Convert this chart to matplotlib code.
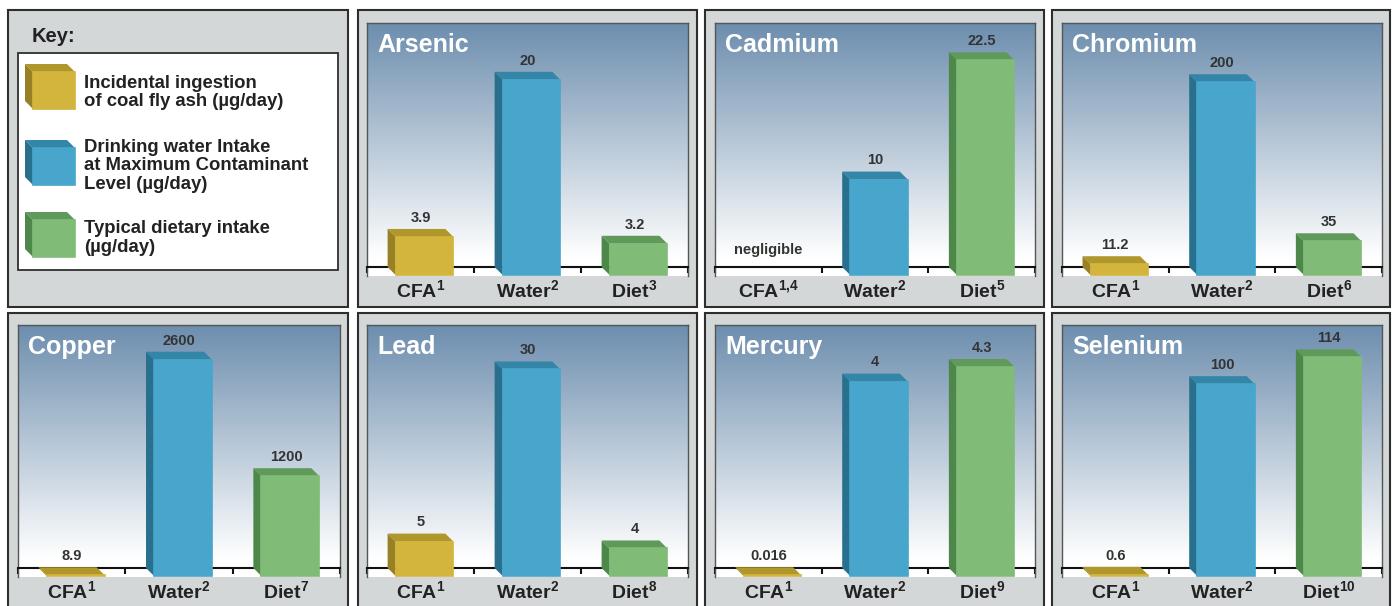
import numpy as np
import matplotlib
matplotlib.use('Agg')
import matplotlib.pyplot as plt
from matplotlib.patches import Rectangle, Polygon

plt.rcParams['font.family'] = ['Liberation Sans', 'DejaVu Sans']
plt.rcParams['font.weight'] = 'bold'

# Data (µg/day)
elements = ['Arsenic', 'Cadmium', 'Chromium', 'Copper', 'Lead', 'Mercury', 'Selenium']
cfa = [3.9, None, 11.2, 8.9, 5, 0.016, 0.6]        # None -> negligible
water = [20, 10, 200, 2600, 30, 4, 100]
diet = [3.2, 22.5, 35, 1200, 4, 4.3, 114]
cfa_notes = ['1', '1{,}4', '1', '1', '1', '1', '1']
water_notes = ['2', '2', '2', '2', '2', '2', '2']
diet_notes = ['3', '5', '6', '7', '8', '9', '10']
key_labels = ['Incidental ingestion\nof coal fly ash (µg/day)',
              'Drinking water Intake\nat Maximum Contaminant\nLevel (µg/day)',
              'Typical dietary intake\n(µg/day)']

# how much of the plot height the tallest bar uses, per panel
fill = [0.80, 0.88, 0.79, 0.89, 0.85, 0.86, 0.90]

colors = {
    'cfa':   {'front': '#d3b43c', 'top': '#b0972c', 'side': '#978124'},
    'water': {'front': '#48a5cb', 'top': '#3386a8', 'side': '#28708e'},
    'diet':  {'front': '#80bb78', 'top': '#5f9a5a', 'side': '#4e874a'},
}
series = ['cfa', 'water', 'diet']

W, H = 1392, 606
fig = plt.figure(figsize=(W / 100, H / 100), dpi=100)


def fig_rect(x0, y0, x1, y1):
    return [x0 / W, 1 - y1 / H, (x1 - x0) / W, (y1 - y0) / H]


def cube(ax, x0, x1, y0, y1, ox, oy, c, z=4):
    # top face, left side face, front face
    ax.add_patch(Polygon([(x0, y1), (x1, y1), (x1 + ox, y1 + oy), (x0 + ox, y1 + oy)],
                         closed=True, fc=c['top'], ec='none', zorder=z))
    ax.add_patch(Polygon([(x0, y0), (x0, y1), (x0 + ox, y1 + oy), (x0 + ox, y0 + oy)],
                         closed=True, fc=c['side'], ec='none', zorder=z))
    ax.add_patch(Polygon([(x0, y0), (x1, y0), (x1, y1), (x0, y1)],
                         closed=True, fc=c['front'], ec=c['front'], lw=1.2, zorder=z))


# background layer in pixel coordinates
bg = fig.add_axes([0, 0, 1, 1])
bg.set_xlim(0, W)
bg.set_ylim(H, 0)
bg.axis('off')
bg.set_zorder(0)

cols_frame = [(8, 348), (358, 697), (705, 1044), (1052, 1390)]
cols_inner = [(18, 340), (367, 688), (715, 1035), (1062, 1382)]
rows_frame = [(10, 307), (313, 625)]
rows_inner = [(23, 276), (325, 577)]

frame_gray = '#d3d7d7'
edge = '#2e2e2e'
for r in range(2):
    for c in range(4):
        fx0, fx1 = cols_frame[c]
        fy0, fy1 = rows_frame[r]
        bg.add_patch(Rectangle((fx0, fy0), fx1 - fx0, fy1 - fy0, fc=frame_gray, ec=edge, lw=1.5))

# Key panel
bg.text(32, 42, 'Key:', fontsize=14.5, color='#222222', va='baseline')
bg.add_patch(Rectangle((18, 53), 320, 217, fc='white', ec=edge, lw=1.3))
cube_tops = [72, 148, 220]
text_base = [88, 152, 233]
for k, s in enumerate(series):
    cube(bg, 33, 75, cube_tops[k] + 37, cube_tops[k], -8, -8, colors[s])
    for j, line in enumerate(key_labels[k].split('\n')):
        bg.text(84, text_base[k] + 18.5 * j, line, fontsize=13.3, color='#222222', va='baseline')

# gradient for plot areas
top_c = np.array([0x6d, 0x8e, 0xae]) / 255
bot_c = np.array([1.0, 1.0, 1.0])
t = np.linspace(0, 1, 256)
t = np.clip(t / 0.93, 0, 1)
grad = (top_c[None, :] * (1 - t[:, None]) + bot_c[None, :] * t[:, None])[:, None, :]

for i, el in enumerate(elements):
    r, c = divmod(i + 1, 4)
    ix0, ix1 = cols_inner[c]
    iy0, iy1 = rows_inner[r]
    ax = fig.add_axes(fig_rect(ix0, iy0, ix1, iy1))
    ax.set_zorder(1)

    vals = [cfa[i], water[i], diet[i]]
    vmax = max(v for v in vals if v is not None)
    T = vmax / fill[i]
    ppu_y = (iy1 - iy0 - 9) / T
    ybot = -9 / ppu_y
    dy = 8 / ppu_y
    dx = 8 / ((ix1 - ix0) / 3)
    w = 0.54

    ax.imshow(grad, extent=[-0.5, 2.5, ybot, T], aspect='auto', zorder=0)

    notes = [cfa_notes[i], water_notes[i], diet_notes[i]]
    names = ['CFA', 'Water', 'Diet']
    for j, v in enumerate(vals):
        if v is None:
            ax.annotate('negligible', xy=(j, 0), xytext=(0, 7), textcoords='offset points',
                        ha='center', va='bottom', fontsize=10.5, color='#333333')
        else:
            x0 = j - w / 2 + dx / 2
            cube(ax, x0, x0 + w, -dy, v - dy, -dx, dy, colors[series[j]])
            ax.annotate(f'{v:g}', xy=(j, v), xytext=(0, 3), textcoords='offset points',
                        ha='center', va='bottom', fontsize=10.5, color='#333333')
        ax.annotate(names[j] + r'$^{\mathregular{' + notes[j] + '}}$', xy=(j, 0),
                    xycoords=('data', 'axes fraction'), xytext=(0, -10.5),
                    textcoords='offset points', ha='center', va='center',
                    fontsize=14, color='#222222')

    ax.annotate(el, xy=(0, 1), xycoords='axes fraction', xytext=(7.5, -21),
                textcoords='offset points', ha='left', va='baseline',
                fontsize=18, color='white')

    ax.set_xlim(-0.5, 2.5)
    ax.set_ylim(ybot, T)
    ax.set_xticks([-0.5, 0.5, 1.5, 2.5])
    ax.set_xticklabels([])
    ax.set_yticks([])
    ax.tick_params(axis='x', direction='out', length=4, width=1.5, color='#111111')
    ax.spines['bottom'].set_position(('data', 0))
    ax.spines['bottom'].set_linewidth(1.5)
    ax.spines['bottom'].set_color('#111111')
    for sp in ['left', 'right', 'top']:
        ax.spines[sp].set_color('#555555')
        ax.spines[sp].set_linewidth(1.0)

fig.savefig('out.png', dpi=100)
